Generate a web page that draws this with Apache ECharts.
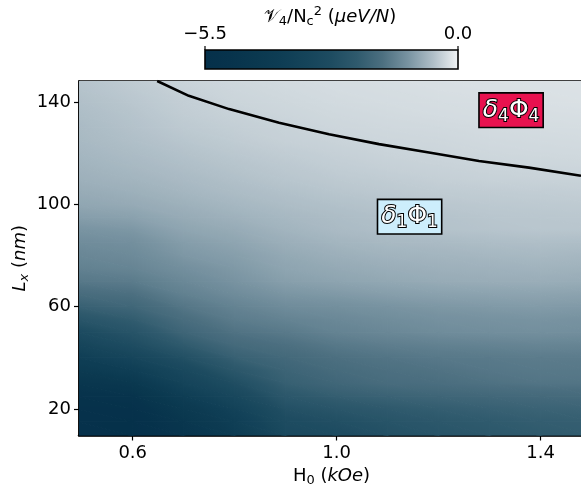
<!DOCTYPE html>
<html>
<head>
<meta charset="utf-8">
<script src="https://cdn.jsdelivr.net/npm/echarts@6/dist/echarts.min.js"></script>
<style>
html, body { margin: 0; padding: 0; background: #fff; }
#chart { width: 581px; height: 484px; }
</style>
</head>
<body>
<div id="chart"></div>
<script>
// H0 (kOe) grid nodes
const fieldH0 = [0.49, 0.6, 0.7, 0.8, 0.9, 1.0, 1.1, 1.2, 1.3, 1.4, 1.5];
// Lx (nm) grid nodes, top row first
const lengthLx = [150, 145, 140, 135, 130, 125, 120, 115, 110, 105, 100, 95, 90, 85, 80,
                  75, 70, 65, 60, 55, 50, 45, 40, 35, 30, 25, 20, 15, 9.5];
// V4 / Nc^2 (ueV/N), one row per Lx, one column per H0
const v4Rows = [
  [-0.50, -0.41, -0.33, -0.29, -0.26, -0.24, -0.22, -0.21, -0.20, -0.19, -0.18],
  [-0.52, -0.44, -0.36, -0.31, -0.28, -0.25, -0.24, -0.22, -0.21, -0.20, -0.19],
  [-0.55, -0.47, -0.39, -0.33, -0.30, -0.27, -0.25, -0.24, -0.23, -0.21, -0.20],
  [-0.58, -0.50, -0.41, -0.36, -0.32, -0.29, -0.27, -0.25, -0.24, -0.23, -0.22],
  [-0.61, -0.52, -0.44, -0.39, -0.35, -0.31, -0.29, -0.28, -0.26, -0.25, -0.24],
  [-0.63, -0.55, -0.48, -0.42, -0.37, -0.34, -0.31, -0.30, -0.28, -0.27, -0.26],
  [-0.66, -0.59, -0.52, -0.46, -0.41, -0.37, -0.34, -0.32, -0.30, -0.29, -0.28],
  [-0.70, -0.63, -0.56, -0.50, -0.45, -0.40, -0.37, -0.35, -0.33, -0.32, -0.31],
  [-0.74, -0.68, -0.61, -0.54, -0.48, -0.44, -0.41, -0.38, -0.36, -0.35, -0.35],
  [-0.80, -0.74, -0.66, -0.59, -0.53, -0.48, -0.45, -0.42, -0.41, -0.40, -0.39],
  [-0.86, -0.81, -0.73, -0.65, -0.58, -0.53, -0.50, -0.47, -0.45, -0.44, -0.43],
  [-0.97, -0.92, -0.80, -0.72, -0.64, -0.58, -0.54, -0.51, -0.48, -0.47, -0.46],
  [-1.10, -1.05, -0.88, -0.80, -0.69, -0.61, -0.56, -0.52, -0.50, -0.48, -0.48],
  [-1.21, -1.16, -0.98, -0.88, -0.76, -0.68, -0.63, -0.61, -0.58, -0.56, -0.57],
  [-1.29, -1.24, -1.05, -0.96, -0.83, -0.75, -0.70, -0.68, -0.65, -0.63, -0.65],
  [-1.38, -1.32, -1.16, -1.03, -0.88, -0.82, -0.77, -0.74, -0.72, -0.70, -0.72],
  [-1.51, -1.46, -1.27, -1.10, -0.95, -0.89, -0.84, -0.80, -0.78, -0.77, -0.79],
  [-1.73, -1.65, -1.38, -1.21, -1.07, -1.02, -0.96, -0.92, -0.90, -0.89, -0.91],
  [-2.04, -1.87, -1.54, -1.35, -1.21, -1.16, -1.10, -1.05, -1.02, -1.00, -1.02],
  [-2.42, -2.15, -1.71, -1.46, -1.35, -1.27, -1.20, -1.14, -1.12, -1.10, -1.12],
  [-2.86, -2.45, -1.90, -1.60, -1.49, -1.35, -1.28, -1.21, -1.18, -1.16, -1.17],
  [-3.30, -2.75, -2.20, -1.79, -1.65, -1.51, -1.43, -1.38, -1.35, -1.32, -1.33],
  [-3.74, -3.25, -2.61, -2.04, -1.82, -1.65, -1.57, -1.51, -1.49, -1.46, -1.46],
  [-4.18, -3.80, -3.03, -2.34, -1.95, -1.76, -1.65, -1.60, -1.54, -1.51, -1.51],
  [-4.62, -4.40, -3.36, -2.70, -2.06, -1.87, -1.73, -1.68, -1.62, -1.57, -1.57],
  [-5.06, -4.90, -3.85, -3.08, -2.31, -2.09, -1.98, -1.90, -1.84, -1.79, -1.76],
  [-5.28, -5.23, -4.29, -3.47, -2.59, -2.39, -2.23, -2.12, -2.04, -1.98, -1.95],
  [-5.34, -5.39, -4.57, -3.74, -2.81, -2.64, -2.45, -2.31, -2.20, -2.12, -2.09],
  [-5.28, -5.39, -4.73, -3.96, -2.97, -2.81, -2.59, -2.42, -2.31, -2.20, -2.15]
];
// boundary between the two phases, [H0, Lx]
const phaseBoundary = [
  [0.648, 148.3], [0.710, 142.5], [0.789, 137.3], [0.887, 132.0], [0.985, 127.5],
  [1.083, 123.6], [1.181, 120.3], [1.279, 117.0], [1.377, 114.4], [1.479, 111.2]
];
const phaseNames = ['4', '1'];
const phasePos = [[1.342, 136.9], [1.143, 95.2]];
const phaseColors = ['#e8124f', '#cdeefc'];
const colorbarTicks = [-5.5, 0.0];
const xTicks = [0.6, 1.0, 1.4];
const yTicks = [20, 60, 100, 140];

const cmap = ['#05304a', '#07334c', '#0a384f', '#0e3d54', '#15445a', '#1e4c61',
              '#2f5a6d', '#4c6f80', '#7893a1', '#b0bfc8', '#f2f4f5'];

const FONT = 'DejaVu Sans';
const vMin = colorbarTicks[0], vMax = colorbarTicks[1];
const nCols = fieldH0.length, nRows = lengthLx.length;
const fmtMinus = v => v.toFixed(1).replace('-', '\u2212');
const colorOf = v => echarts.color.lerp(Math.min(1, Math.max(0, (v - vMin) / (vMax - vMin))), cmap);

const heatData = [];
lengthLx.forEach((y, i) => fieldH0.forEach((x, j) => heatData.push([x, y, v4Rows[i][j]])));

// shade a triangle smoothly between its three grid nodes
function triangle(pts, vals) {
  const [p0, p1, p2] = pts;
  const e1x = p1[0] - p0[0], e1y = p1[1] - p0[1];
  const e2x = p2[0] - p0[0], e2y = p2[1] - p0[1];
  const d1 = vals[1] - vals[0], d2 = vals[2] - vals[0];
  const det = e1x * e2y - e1y * e2x;
  const gx = (d1 * e2y - d2 * e1y) / det;
  const gy = (e1x * d2 - e2x * d1) / det;
  const g2 = gx * gx + gy * gy;
  const lo = Math.min(...vals), hi = Math.max(...vals);
  let fill;
  if (hi - lo < 1e-6 || g2 < 1e-12) {
    fill = colorOf(lo);
  } else {
    const stops = [];
    for (let k = 0; k <= 6; k++) stops.push({ offset: k / 6, color: colorOf(lo + (hi - lo) * k / 6) });
    fill = new echarts.graphic.LinearGradient(
      p0[0] + gx * (lo - vals[0]) / g2, p0[1] + gy * (lo - vals[0]) / g2,
      p0[0] + gx * (hi - vals[0]) / g2, p0[1] + gy * (hi - vals[0]) / g2, stops, true);
  }
  return { type: 'polygon', shape: { points: pts }, style: { fill: fill, stroke: fill, lineWidth: 1.1 } };
}

function renderCell(params, api) {
  const i = Math.floor(params.dataIndex / nCols), j = params.dataIndex % nCols;
  if (i >= nRows - 1 || j >= nCols - 1) return null;
  const a = api.coord([fieldH0[j], lengthLx[i]]);
  const b = api.coord([fieldH0[j + 1], lengthLx[i]]);
  const c = api.coord([fieldH0[j + 1], lengthLx[i + 1]]);
  const d = api.coord([fieldH0[j], lengthLx[i + 1]]);
  const va = v4Rows[i][j], vb = v4Rows[i][j + 1], vc = v4Rows[i + 1][j + 1], vd = v4Rows[i + 1][j];
  return {
    type: 'group',
    children: [triangle([a, b, c], [va, vb, vc]), triangle([a, c, d], [va, vc, vd])]
  };
}

const chart = echarts.init(document.getElementById('chart'));

const cbLeft = 205, cbTop = 50, cbW = 253, cbH = 19;
const cbStops = cmap.map((c, i) => ({ offset: i / (cmap.length - 1), color: c }));

const txt = { color: '#fff', textBorderColor: '#000', textBorderWidth: 2 };
const labelRich = {
  d: { ...txt, fontFamily: FONT, fontSize: 25, fontStyle: 'italic', lineHeight: 29 },
  p: { ...txt, fontFamily: FONT, fontSize: 25, lineHeight: 29 },
  s: { ...txt, fontFamily: FONT, fontSize: 17, verticalAlign: 'bottom', lineHeight: 17 }
};

chart.setOption({
  animation: false,
  grid: {
    left: 79, top: 81, right: -3, bottom: 48.5, containLabel: false, outerBoundsMode: 'none',
    show: true, borderColor: '#000', borderWidth: 1.5, backgroundColor: 'transparent'
  },
  xAxis: {
    type: 'value', min: 0.4947, max: 1.485,
    name: '{r|H}{s|0}{r| (}{i|kOe}{r|)}', nameLocation: 'middle', nameGap: 30,
    nameTextStyle: {
      rich: {
        r: { fontFamily: FONT, fontSize: 18, color: '#000', lineHeight: 22 },
        i: { fontFamily: FONT, fontSize: 18, fontStyle: 'italic', color: '#000', lineHeight: 22 },
        s: { fontFamily: FONT, fontSize: 13, color: '#000', verticalAlign: 'bottom', lineHeight: 13 }
      }
    },
    axisLine: { onZero: false, lineStyle: { color: '#000', width: 2.5 } },
    axisTick: { customValues: xTicks, length: 5, lineStyle: { color: '#000', width: 1.2 } },
    axisLabel: { customValues: xTicks, formatter: v => v.toFixed(1), fontFamily: FONT, fontSize: 18, color: '#000', margin: 9 },
    splitLine: { show: false }
  },
  yAxis: {
    type: 'value', min: 9.6, max: 148.3,
    name: '{i|L}{s|x}{r| (}{i|nm}{r|)}', nameLocation: 'middle', nameGap: 48, nameRotate: 90,
    nameMoveOverlap: false,
    nameTextStyle: {
      rich: {
        r: { fontFamily: FONT, fontSize: 18, color: '#000', lineHeight: 22 },
        i: { fontFamily: FONT, fontSize: 18, fontStyle: 'italic', color: '#000', lineHeight: 22 },
        s: { fontFamily: FONT, fontSize: 13, fontStyle: 'italic', color: '#000', verticalAlign: 'bottom', lineHeight: 13 }
      }
    },
    axisLine: { onZero: false, lineStyle: { color: '#000', width: 1.5 } },
    axisTick: { customValues: yTicks, length: 5, lineStyle: { color: '#000', width: 1.2 } },
    axisLabel: { customValues: yTicks, fontFamily: FONT, fontSize: 18, color: '#000', margin: 8 },
    splitLine: { show: false }
  },
  series: [
    {
      type: 'custom', silent: true, clip: true, renderItem: renderCell,
      data: heatData, encode: { x: 0, y: 1 }, z: 1
    },
    {
      type: 'line', data: phaseBoundary, showSymbol: false, silent: true, clip: true, z: 3,
      lineStyle: { color: '#000', width: 2.6 },
      markPoint: {
        symbol: 'rect', symbolSize: 1, itemStyle: { color: 'transparent' },
        data: phasePos.map((c, i) => ({
          coord: c,
          label: {
            show: true, position: 'inside',
            formatter: `{d|δ}{s|${phaseNames[i]}}{p|Φ}{s|${phaseNames[i]}}`,
            backgroundColor: phaseColors[i], borderColor: '#000', borderWidth: 1.6,
            padding: [2, 3, 2, 3], rich: labelRich
          }
        }))
      }
    }
  ],
  graphic: [
    {
      type: 'rect', shape: { x: cbLeft, y: cbTop, width: cbW, height: cbH }, z: 10,
      style: { fill: new echarts.graphic.LinearGradient(0, 0, 1, 0, cbStops), stroke: '#000', lineWidth: 1.6 }
    },
    ...colorbarTicks.map((t, i) => ({
      type: 'line', z: 10, shape: { x1: cbLeft + i * cbW, y1: cbTop - 4, x2: cbLeft + i * cbW, y2: cbTop },
      style: { stroke: '#000', lineWidth: 1.2 }
    })),
    ...colorbarTicks.map((t, i) => ({
      type: 'text', z: 10,
      style: { x: cbLeft + i * cbW, y: 34, text: fmtMinus(t), font: `18px "${FONT}"`, fill: '#000', align: 'center', verticalAlign: 'middle' }
    })),
    {
      type: 'text', z: 10,
      style: {
        x: 330, y: 17, align: 'center', verticalAlign: 'middle',
        text: '{v|𝒱}{s|4}{r|/N}{s|c}{u|2}{r| (}{i|μeV/N}{r|)}',
        rich: {
          v: { fontFamily: FONT, fontSize: 18, fill: '#000', lineHeight: 23 },
          r: { fontFamily: FONT, fontSize: 18, fill: '#000', lineHeight: 23 },
          i: { fontFamily: FONT, fontSize: 18, fontStyle: 'italic', fill: '#000', lineHeight: 23 },
          s: { fontFamily: FONT, fontSize: 13, fill: '#000', verticalAlign: 'bottom', lineHeight: 13 },
          u: { fontFamily: FONT, fontSize: 13, fill: '#000', verticalAlign: 'top', lineHeight: 13 }
        }
      }
    }
  ]
});
</script>
</body>
</html>
